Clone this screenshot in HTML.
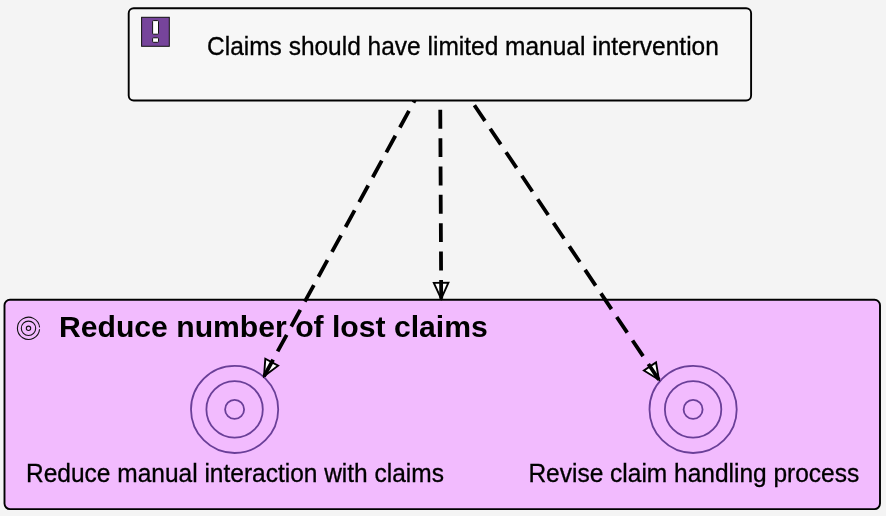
<!DOCTYPE html>
<html><head><meta charset="utf-8">
<style>
html,body{margin:0;padding:0;background:#f4f4f4;}
body{width:886px;height:516px;overflow:hidden;}
svg{display:block;will-change:transform;}
text{font-family:"Liberation Sans",sans-serif;fill:#000;}
</style></head>
<body>
<svg width="886" height="516" viewBox="0 0 886 516" xmlns="http://www.w3.org/2000/svg">
<rect x="0" y="0" width="886" height="516" fill="#f4f4f4"/>
<!-- group box -->
<rect x="4.5" y="299.7" width="875.5" height="209.4" rx="5.5" ry="5.5" fill="#f2bbfe" stroke="#000" stroke-width="1.9"/>
<!-- small goal icon -->
<g fill="none" stroke="#111" stroke-width="1.1">
<path d="M39.56 329.27 A11.1 11.1 0 1 1 39.56 327.33"/>
<circle cx="28.5" cy="328.3" r="7.2"/>
<circle cx="28.5" cy="328.3" r="2.2"/>
</g>
<text x="59" y="336.8" font-size="30.15" font-weight="bold">Reduce number of lost claims</text>
<!-- goals -->
<g fill="none" stroke="#6a3f98" stroke-width="1.8">
<circle cx="234.6" cy="409.4" r="43.6"/>
<circle cx="234.6" cy="409.4" r="28.2"/>
<circle cx="234.6" cy="409.4" r="9.5"/>
<circle cx="693.1" cy="409.4" r="43.6"/>
<circle cx="693.1" cy="409.4" r="28.2"/>
<circle cx="693.1" cy="409.4" r="9.5"/>
</g>
<text transform="matrix(1,0,0,1.05,235,481.7)" font-size="24.5" stroke="#000" stroke-width="0.3" text-anchor="middle">Reduce manual interaction with claims</text>
<text transform="matrix(1,0,0,1.05,693.8,481.7)" font-size="24.5" stroke="#000" stroke-width="0.3" text-anchor="middle">Revise claim handling process</text>
<!-- connections -->
<g fill="#fff" stroke="#000" stroke-width="1.9" stroke-linejoin="miter">
<path d="M264.05 376.30 L265.31 358.76 L278.12 365.75 Z"/>
<path d="M441.20 298.80 L433.82 282.84 L448.42 282.76 Z"/>
<path d="M658.90 379.70 L643.92 370.49 L656.03 362.35 Z"/>
</g>
<g fill="none" stroke="#000" stroke-width="3.8" stroke-dasharray="18.9 9.45">
<path d="M264.05 376.3 L440 54"/>
<path d="M441.2 298.8 L440 54"/>
<path d="M658.9 379.7 L440 54"/>
</g>
<!-- top box -->
<rect x="128.7" y="8.2" width="622.4" height="92.3" rx="5" ry="5" fill="#f7f7f7" stroke="#000" stroke-width="1.9"/>
<rect x="141.6" y="17.3" width="27.7" height="29" fill="#76449b" stroke="#111" stroke-width="1"/>
<rect x="152.6" y="20.6" width="5.9" height="13.6" rx="0.8" fill="#fff" stroke="#111" stroke-width="1"/>
<rect x="152.6" y="37.8" width="5.9" height="4.5" rx="0.8" fill="#fff" stroke="#111" stroke-width="1"/>
<text transform="matrix(1,0,0,1.05,207,55)" font-size="24.5" stroke="#000" stroke-width="0.3">Claims should have limited manual intervention</text>
</svg>
</body></html>
